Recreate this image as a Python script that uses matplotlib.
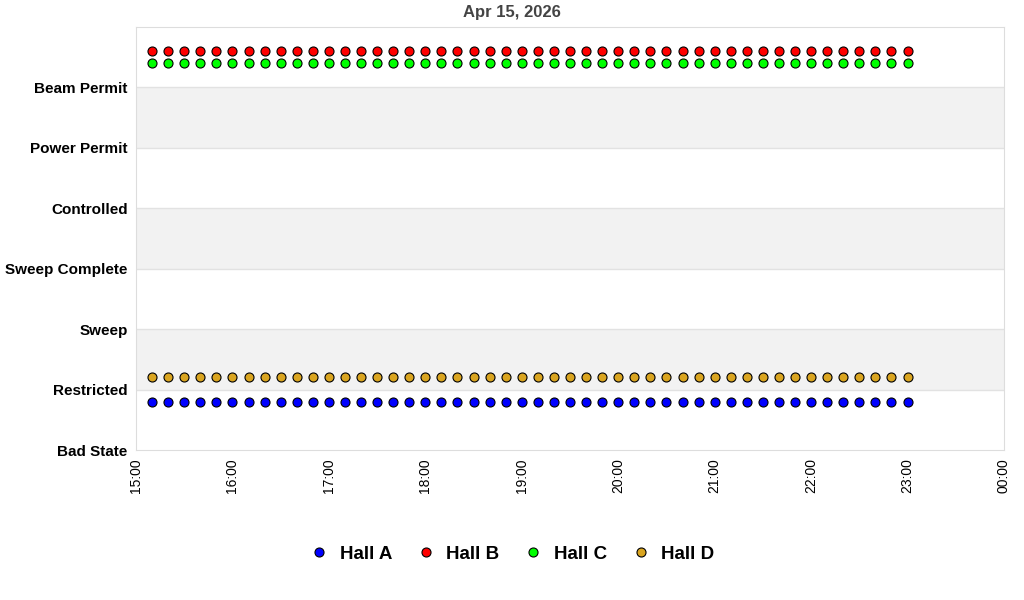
import numpy as np
import pandas as pd
import matplotlib
matplotlib.use('Agg')
import matplotlib.pyplot as plt
import matplotlib.dates as mdates

plt.rcParams['font.family'] = ['Liberation Sans', 'DejaVu Sans']

states = ['Bad State', 'Restricted', 'Sweep', 'Sweep Complete',
          'Controlled', 'Power Permit', 'Beam Permit']

# samples every 10 minutes, 15:10 .. 23:00
times = pd.date_range('2026-04-15 15:10', '2026-04-15 23:00', freq='10min')
n = len(times)
hall_a = [0.8] * n
hall_b = [6.6] * n
hall_c = [6.4] * n
hall_d = [1.2] * n

halls = ['Hall A', 'Hall B', 'Hall C', 'Hall D']
colors = ['#0000FF', '#FF0000', '#00FF00', '#DAA520']

fig = plt.figure(figsize=(10.24, 6.0), dpi=100)
ax = fig.add_axes([136/1024, 1 - 450/600, (1004-136)/1024, (450-27)/600])

# alternating bands
for lo in [1, 3, 5]:
    ax.axhspan(lo, lo + 1, color='#F2F2F2', zorder=0, lw=0)
for y in range(1, 7):
    ax.axhline(y, color='#E2E2E2', lw=1, zorder=1)

for vals, lab, c in zip([hall_a, hall_b, hall_c, hall_d], halls, colors):
    ax.plot(times, vals, ls='none', marker='o', ms=6.5, mfc=c, mec='black',
            mew=0.8, label=lab, zorder=3)

ax.set_ylim(0, 7)
ax.set_yticks(range(len(states)))
ax.set_yticklabels(states, fontsize=11, fontweight='bold')
ax.set_xlim(pd.Timestamp('2026-04-15 15:00'), pd.Timestamp('2026-04-16 00:00'))
ax.xaxis.set_major_locator(mdates.HourLocator())
ax.xaxis.set_major_formatter(mdates.DateFormatter('%H:%M'))
plt.setp(ax.get_xticklabels(), rotation=90, fontsize=10)
ax.tick_params(length=0, pad=6)
for s in ax.spines.values():
    s.set_color('#DDDDDD')

fig.text(0.5, 1 - 12/600, 'Apr 15, 2026', ha='center', va='center',
         fontsize=12, fontweight='bold', color='#444444')

fig.legend(loc='center', bbox_to_anchor=(0.5, 1 - 554/600), ncol=4, frameon=False,
           prop={'size': 13.5, 'weight': 'bold'}, handletextpad=0.6, columnspacing=1.3,
           handlelength=1.0)

fig.savefig('out.png', dpi=100)
